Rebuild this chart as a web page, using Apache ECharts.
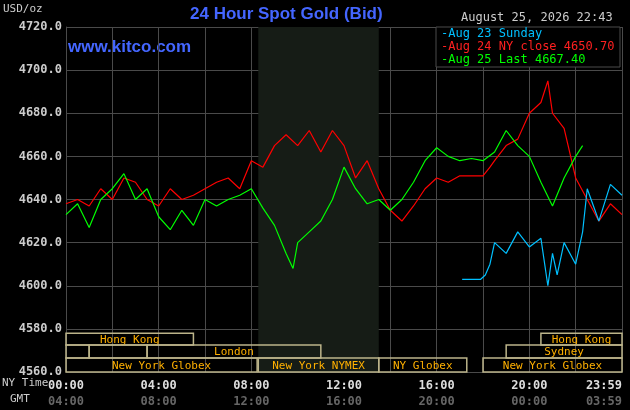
<!DOCTYPE html>
<html><head><meta charset="utf-8">
<script src="https://cdn.jsdelivr.net/npm/echarts@6/dist/echarts.min.js"></script>
<style>html,body{margin:0;background:#000}#c{width:630px;height:410px}</style>
</head><body><div id="c"></div>
<script>
const hours=[0,0.5,1,1.5,2,2.5,3,3.5,4,4.5,5,5.5,6,6.5,7,7.5,8,8.5,9,9.5,9.8,10,10.5,11,11.5,12,12.5,13,13.5,14,14.5,15,15.5,16,16.5,17,17.5,18,18.5,19,19.5,20,20.5,21,21.5,22,22.3];
const greenVals=[4633,4638,4627,4640,4645,4652,4640,4645,4632,4626,4635,4628,4640,4637,4640,4642,4645,4636,4628,4615,4608,4620,4625,4630,4640,4655,4645,4638,4640,4635,4640,4648,4658,4664,4660,4658,4659,4658,4662,4672,4665,4660,4648,4637,4650,4660,4665];
const redHours=[0,0.5,1,1.5,2,2.5,3,3.5,4,4.5,5,5.5,6,6.5,7,7.5,8,8.5,9,9.5,10,10.5,11,11.5,12,12.5,13,13.5,14,14.5,15,15.5,16,16.5,17,18,18.3,18.5,19,19.5,20,20.5,20.8,21,21.5,22,22.5,23,23.5,24];
const redVals=[4638,4640,4637,4645,4640,4650,4648,4640,4637,4645,4640,4642,4645,4648,4650,4645,4658,4655,4665,4670,4665,4672,4662,4672,4665,4650,4658,4645,4635,4630,4637,4645,4650,4648,4651,4651,4655,4658,4665,4668,4680,4685,4695,4680,4673,4650,4640,4630,4638,4633];
const blueHours=[17.1,17.9,18.1,18.3,18.5,19,19.5,20,20.5,20.8,21,21.2,21.5,22,22.3,22.5,23,23.5,24];
const blueVals=[4603,4603,4605,4610,4620,4615,4625,4618,4622,4600,4615,4605,4620,4610,4625,4645,4630,4647,4642];
const nyLabels=['00:00','04:00','08:00','12:00','16:00','20:00','23:59'];
const gmtLabels=['04:00','08:00','12:00','16:00','20:00','00:00','03:59'];
// sessions: [start, end, row(0=HK,1=London/Sydney,2=NY), label]
const sessions=[[0,5.5,0,'Hong Kong'],[20.5,24,0,'Hong Kong'],[0,1,1,''],[1,3.5,1,''],[3.5,11,1,'London'],[19,24,1,'Sydney'],
[0,8.25,2,'New York Globex'],[8.3,13.5,2,'New York NYMEX'],[13.5,17.3,2,'NY Globex'],[18,24,2,'New York Globex']];
const rowBounds=[[4572.5,4578],[4566.5,4572.5],[4560,4566.5]];
const mono='DejaVu Sans Mono';
const c=echarts.init(document.getElementById('c'));
c.setOption({
backgroundColor:'#000',animation:false,
grid:{left:66,right:8,top:27,bottom:38,outerBoundsMode:'none',containLabel:false},
xAxis:{type:'value',min:0,max:24,interval:2,splitLine:{show:true,lineStyle:{color:'#4a4a4a'}},axisLine:{show:false},axisTick:{show:false},
 axisLabel:{margin:6,fontFamily:mono,fontSize:12,formatter:v=>{if(v%4!==0&&v!==24)return '';const i=v===24?6:v/4;return '{a|'+nyLabels[i]+'}\n{b|'+gmtLabels[i]+'}';},
 rich:{a:{color:'#ddd',fontWeight:'bold',fontFamily:mono,fontSize:12,lineHeight:16},b:{color:'#666',fontWeight:'bold',fontFamily:mono,fontSize:12,lineHeight:16}},
 showMaxLabel:true,alignMaxLabel:'right'}},
yAxis:{type:'value',min:4560,max:4720,interval:20,splitLine:{lineStyle:{color:'#4a4a4a'}},axisLine:{show:true,lineStyle:{color:'#4a4a4a'}},axisTick:{show:false},
 axisLabel:{color:'#ccc',fontFamily:mono,fontWeight:'bold',fontSize:12,margin:4,formatter:v=>v.toFixed(1)}},
series:[
{type:'line',data:[],markArea:{silent:true,itemStyle:{color:'#161c16'},data:[[{xAxis:8.3},{xAxis:13.5}]]}},
{type:'custom',renderItem:(p,api)=>{const r=rowBounds[api.value(2)];const a=api.coord([api.value(0),r[1]]);const b=api.coord([api.value(1),r[0]]);
 return {type:'group',children:[{type:'rect',shape:{x:a[0],y:a[1],width:b[0]-a[0],height:b[1]-a[1]},style:{fill:'rgba(0,0,0,0)',stroke:'#bcb48a',lineWidth:1.5}},
 {type:'text',style:{text:sessions[p.dataIndex][3],x:(a[0]+b[0])/2,y:(a[1]+b[1])/2+1,align:'center',verticalAlign:'middle',fill:'#ffb000',font:'11px '+mono}}]};},
 data:sessions.map(s=>[s[0],s[1],s[2]]),z:3},
{type:'line',data:redHours.map((h,i)=>[h,redVals[i]]),showSymbol:false,lineStyle:{color:'#ff0000',width:1.2},z:4},
{type:'line',data:hours.map((h,i)=>[h,greenVals[i]]),showSymbol:false,lineStyle:{color:'#00ff00',width:1.2},z:5},
{type:'line',data:blueHours.map((h,i)=>[h,blueVals[i]]),showSymbol:false,lineStyle:{color:'#00c0ff',width:1.2},z:6}
],
graphic:[
{type:'text',left:3,top:4,style:{text:'USD/oz',fill:'#ccc',font:'11px '+mono}},
{type:'text',left:190,top:6,style:{text:'24 Hour Spot Gold (Bid)',fill:'#4466ff',font:'bold 17px Liberation Sans'}},
{type:'text',left:68,top:39,style:{text:'www.kitco.com',fill:'#4466ff',font:'bold 17px Liberation Sans'}},
{type:'text',left:461,top:12,style:{text:'August 25, 2026 22:43',fill:'#ccc',font:'12px '+mono}},
{type:'rect',shape:{x:436,y:27,width:184,height:40},style:{fill:'#000',stroke:'#4a4a4a',lineWidth:1},z:10},
{type:'text',left:441,top:28,z:11,style:{text:'-Aug 23 Sunday',fill:'#00c0ff',font:'12px '+mono}},
{type:'text',left:441,top:41,z:11,style:{text:'-Aug 24 NY close 4650.70',fill:'#ff2020',font:'12px '+mono}},
{type:'text',left:441,top:54,z:11,style:{text:'-Aug 25 Last 4667.40',fill:'#00ff00',font:'12px '+mono}},
{type:'text',left:2,top:378,style:{text:'NY Time',fill:'#ccc',font:'11px '+mono}},
{type:'text',left:10,top:394,style:{text:'GMT',fill:'#ccc',font:'11px '+mono}}
]});
</script></body></html>
